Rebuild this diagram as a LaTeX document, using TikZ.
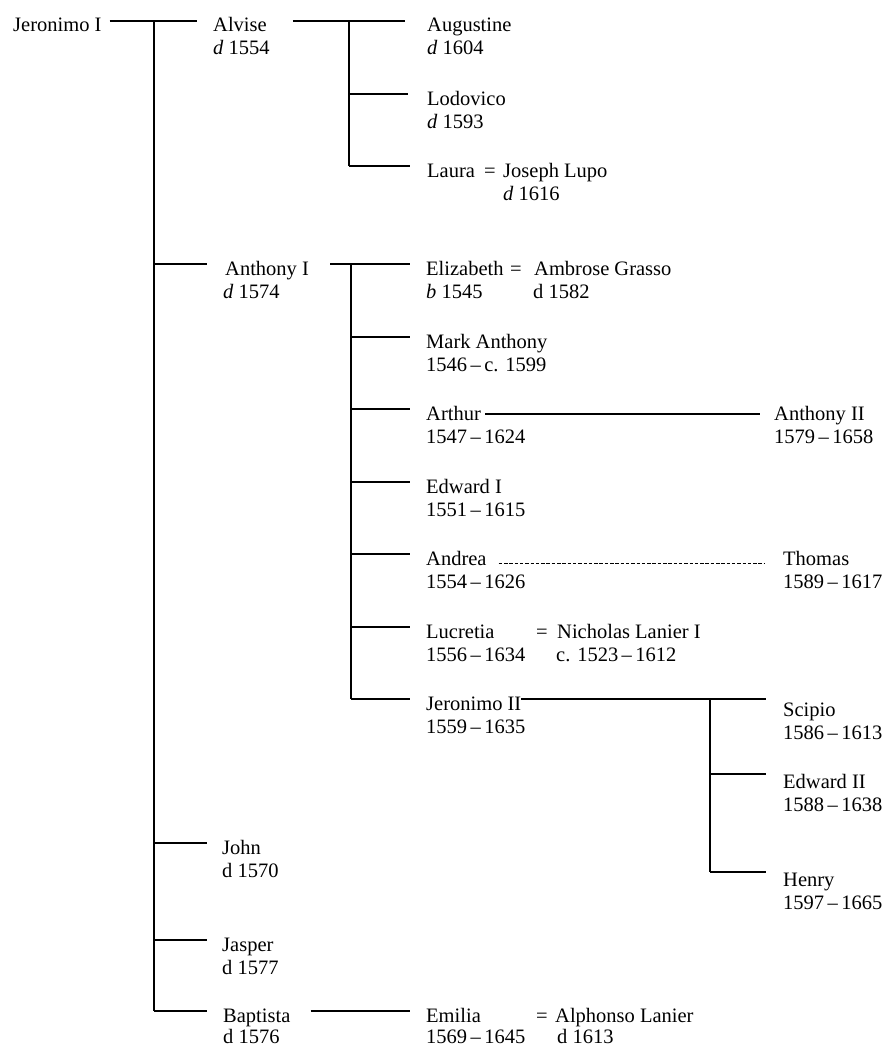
\documentclass[tikz,border=0pt]{standalone}
\usepackage{fontspec}
\setmainfont{Liberation Serif}
\newcommand{\treefont}{\fontsize{20.5}{23}\selectfont}
\begin{document}
\begin{tikzpicture}[x=1pt,y=-1pt,
  conn/.style={line width=1.3pt},
  dotconn/.style={line width=0.9pt, dash pattern=on 3.5pt off 1.8pt},
  nm/.style={anchor=base west, inner sep=0pt, text height=22pt, text depth=0pt, font=\treefont},
  nmr/.style={nm, text height=28pt},
  dt/.style={anchor=base west, inner sep=0pt, font=\treefont}]
\useasboundingbox (0,0) rectangle (885,1049);

% generation 0 and 1
\node[nm] (jer) at (13,32) {Jeronimo I};
\node[nm] (alvise) at (213,32) {Alvise};
\node[dt] (alvise-d) at (213,55) {\textit{d} 1554};
\node[nm] (anthony) at (225,275) {Anthony I};
\node[dt] (anthony-d) at (223,298) {\textit{d} 1574};
\node[nm] (john) at (222,854) {John};
\node[dt] (john-d) at (222,877) {d 1570};
\node[nm] (jasper) at (222,951) {Jasper};
\node[dt] (jasper-d) at (222,974) {d 1577};
\node[nm] (baptista) at (223,1022) {Baptista};
\node[dt] (baptista-d) at (223,1043) {d 1576};

% Alvise's children
\node[nm] (augustine) at (427,32) {Augustine};
\node[dt] (augustine-d) at (427,55) {\textit{d} 1604};
\node[nm] (lodovico) at (427,105) {Lodovico};
\node[dt] (lodovico-d) at (427,128) {\textit{d} 1593};
\node[nm] (laura) at (427,177) {Laura};
\node[dt] (laura-eq) at (484,177) {=};
\node[dt] (lupo) at (503,177) {Joseph Lupo};
\node[dt] (lupo-d) at (503,200) {\textit{d} 1616};

% Anthony's children
\node[nm] (elizabeth) at (426,275) {Elizabeth};
\node[dt] (elizabeth-eq) at (510,275) {=};
\node[dt] (grasso) at (534,275) {Ambrose Grasso};
\node[dt] (elizabeth-d) at (426,298) {\textit{b} 1545};
\node[dt] (grasso-d) at (533,298) {d 1582};
\node[nm] (markanthony) at (426,348) {Mark Anthony};
\node[dt] (markanthony-d) at (426,371) {1546\,--\,c. 1599};
\node[nm] (arthur) at (426,420) {Arthur};
\node[dt] (arthur-d) at (426,443) {1547\,--\,1624};
\node[nm] (edwardi) at (426,493) {Edward I};
\node[dt] (edwardi-d) at (426,516) {1551\,--\,1615};
\node[nm] (andrea) at (426,565) {Andrea};
\node[dt] (andrea-d) at (426,588) {1554\,--\,1626};
\node[nm] (lucretia) at (426,638) {Lucretia};
\node[dt] (lucretia-eq) at (536,638) {=};
\node[dt] (lanier) at (557,638) {Nicholas Lanier I};
\node[dt] (lucretia-d) at (426,661) {1556\,--\,1634};
\node[dt] (lanier-d) at (556,661) {c. 1523\,--\,1612};
\node[nm] (jeronimoii) at (426,710) {Jeronimo II};
\node[dt] (jeronimoii-d) at (426,733) {1559\,--\,1635};

% Baptista's child
\node[nm] (emilia) at (426,1022) {Emilia};
\node[dt] (emilia-eq) at (536,1022) {=};
\node[dt] (alphonso) at (555,1022) {Alphonso Lanier};
\node[dt] (emilia-d) at (426,1043) {1569\,--\,1645};
\node[dt] (alphonso-d) at (557,1043) {d 1613};

% third generation
\node[nm] (anthonyii) at (774,420) {Anthony II};
\node[dt] (anthonyii-d) at (774,443) {1579\,--\,1658};
\node[nm] (thomas) at (783,565) {Thomas};
\node[dt] (thomas-d) at (783,588) {1589\,--\,1617};
\node[nmr] (scipio) at (783,716) {Scipio};
\node[dt] (scipio-d) at (783,739) {1586\,--\,1613};
\node[nmr] (edwardii) at (783,788) {Edward II};
\node[dt] (edwardii-d) at (783,811) {1588\,--\,1638};
\node[nmr] (henry) at (783,886) {Henry};
\node[dt] (henry-d) at (783,909) {1597\,--\,1665};

% junctions
\coordinate (j0) at (154,21);
\coordinate (j1) at (349,21);
\coordinate (j2) at (351,264);
\coordinate (j3) at (710,699);

% Jeronimo I
\draw[conn, shorten <=8pt, shorten >=16pt] (jer.east) -- (alvise.west);
\draw[conn] (j0) -- (j0 |- baptista.west);
\draw[conn, shorten >=18pt] (j0 |- anthony.west) -- (anthony.west);
\draw[conn, shorten >=15pt] (j0 |- john.west) -- (john.west);
\draw[conn, shorten >=15pt] (j0 |- jasper.west) -- (jasper.west);
\draw[conn, shorten >=16pt] (j0 |- baptista.west) -- (baptista.west);

% Alvise
\draw[conn, shorten <=26pt, shorten >=22pt] (alvise.east) -- (augustine.west);
\draw[conn] (j1) -- (j1 |- laura.west);
\draw[conn, shorten >=19pt] (j1 |- lodovico.west) -- (lodovico.west);
\draw[conn, shorten >=17pt] (j1 |- laura.west) -- (laura.west);

% Anthony I
\draw[conn, shorten <=21pt, shorten >=16pt] (anthony.east) -- (elizabeth.west);
\draw[conn] (j2) -- (j2 |- jeronimoii.west);
\draw[conn, shorten >=16pt] (j2 |- markanthony.west) -- (markanthony.west);
\draw[conn, shorten >=16pt] (j2 |- arthur.west) -- (arthur.west);
\draw[conn, shorten >=16pt] (j2 |- edwardi.west) -- (edwardi.west);
\draw[conn, shorten >=16pt] (j2 |- andrea.west) -- (andrea.west);
\draw[conn, shorten >=16pt] (j2 |- lucretia.west) -- (lucretia.west);
\draw[conn, shorten >=16pt] (j2 |- jeronimoii.west) -- (jeronimoii.west);

% Arthur, Andrea
\draw[conn, shorten <=4pt, shorten >=14pt] ([yshift=-5pt]arthur.east) -- ([yshift=-5pt]anthonyii.west);
\draw[dotconn, shorten <=12pt, shorten >=18pt] ([yshift=-9pt]andrea.east) -- ([yshift=-9pt]thomas.west);

% Jeronimo II
\draw[conn, shorten >=17pt] (jeronimoii.east) -- (jeronimoii.east -| scipio.west);
\draw[conn] (j3) -- (j3 |- henry.west);
\draw[conn, shorten >=17pt] (j3 |- edwardii.west) -- (edwardii.west);
\draw[conn, shorten >=17pt] (j3 |- henry.west) -- (henry.west);

% Baptista
\draw[conn, shorten <=20pt, shorten >=16pt] (baptista.east) -- (emilia.west);
\end{tikzpicture}
\end{document}
